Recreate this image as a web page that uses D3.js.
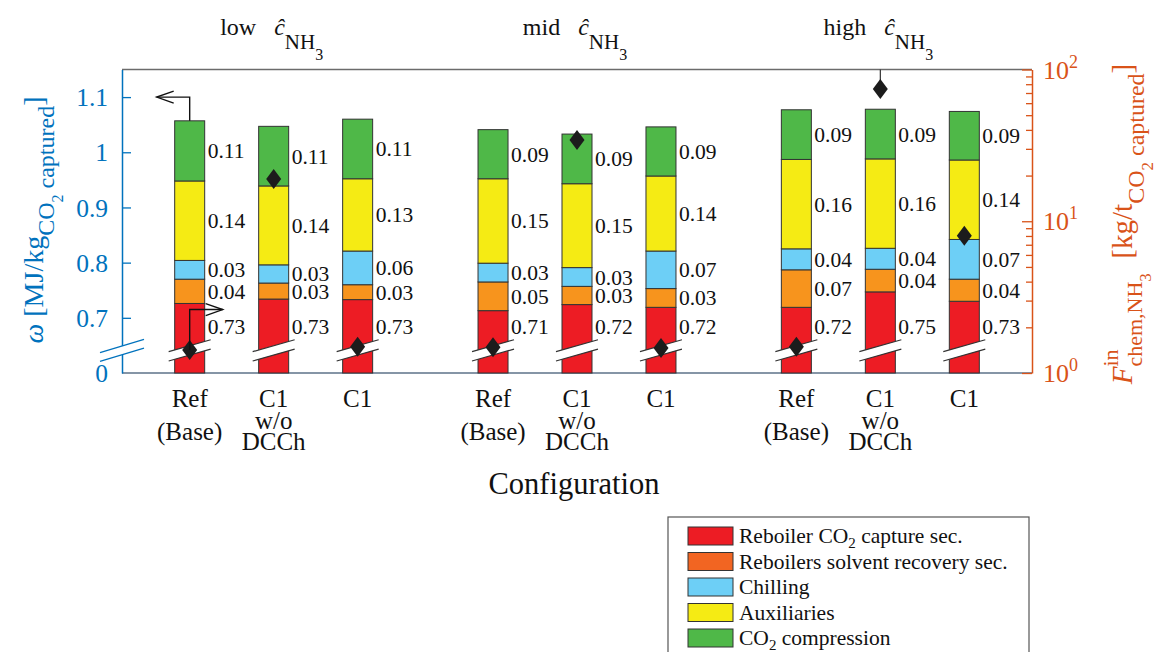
<!DOCTYPE html>
<meta charset="utf-8" />
<title>Specific energy by configuration</title>
<script src="https://d3js.org/d3.v7.min.js"></script>
<style>
  body { margin: 0; background: #fff; }
  svg { display: block; }
  text { white-space: pre; fill: #111; font-family: "Liberation Serif", "Times New Roman", serif; }
</style>
<div id="chart"></div>
<script>
  // ---- data ----
  var levels = ["low", "mid", "high"];
  var configs = ["Ref", "C1 w/o DCCh", "C1"];
  var configLines = [["Ref", "(Base)"], ["C1", "w/o", "DCCh"], ["C1"]];
  var components = ["reboiler", "solvent", "chilling", "aux", "compression"];

  // one value per bar: low Ref, low C1 w/o, low C1, mid ..., high ...
  var reboiler    = [0.726, 0.734, 0.733, 0.713, 0.724, 0.719, 0.719, 0.747, 0.730];
  var solvent     = [0.044, 0.029, 0.027, 0.052, 0.033, 0.034, 0.068, 0.041, 0.040];
  var chilling    = [0.034, 0.033, 0.061, 0.034, 0.034, 0.068, 0.038, 0.038, 0.072];
  var auxiliaries = [0.144, 0.143, 0.131, 0.153, 0.152, 0.136, 0.162, 0.162, 0.144];
  var compression = [0.109, 0.108, 0.108, 0.089, 0.090, 0.089, 0.090, 0.090, 0.088];
  // chemical NH3 make-up (right axis, log)
  var nh3Makeup   = [1.42, 19.0, 1.49, 1.48, 34.3, 1.46, 1.49, 74.4, 8.03];

  var leftTicks = [0.6, 0.7, 0.8, 0.9, 1.0, 1.1];   // 0.6 is shown as "0" (broken axis)
  var rightMajor = [1, 10, 100];

  var barColors = ["#ED1C24", "#F7941D", "#6DCFF6", "#F5EB14", "#4FB848"];
  var legendColors = ["#ED1C24", "#F26522", "#6DCFF6", "#F5EB14", "#4FB848"];
  var blue = "#0072BD", orange = "#D95319";

  var width = 1164, height = 652;
  var plot = { left: 122, right: 1032, top: 69.5, bottom: 373 };
  var breakAt = 0.641;      // where the axis break sits, in left axis units
  var redLabelAt = 0.685;   // red segment labels sit at a fixed level

  var svg = d3.select("#chart").append("svg")
    .attr("width", width).attr("height", height);

  // rich text helper: pieces laid out one after another, "stack" reuses previous start
  function rich(g, parts, anchor) {
    var inner = g.append("g");
    var cur = 0, prevStart = 0;
    parts.forEach(function (p) {
      var start = p.stack ? prevStart : cur;
      var t = inner.append("text")
        .attr("x", start).attr("y", p.dy || 0)
        .attr("font-size", p.size)
        .attr("font-style", p.italic ? "italic" : null)
        .style("fill", p.color || null)
        .text(p.t);
      var w = t.node().getComputedTextLength();
      cur = Math.max(cur, start + w);
      prevStart = start;
    });
    if (anchor === "middle") inner.attr("transform", "translate(" + (-cur / 2) + ",0)");
    return inner;
  }

  // scales
  var xGroup = d3.scaleBand().domain(levels).range([plot.left, plot.right]);
  var xConfig = d3.scalePoint().domain(configs).range([0, xGroup.bandwidth()]).padding(0.806);
  var y = d3.scaleLinear().domain([0.6, 1.15]).range([plot.bottom, plot.top]).clamp(true);
  var yR = d3.scaleLog().domain([1, 100]).range([plot.bottom, plot.top]);
  var barW = 30;

  var rows = [];
  levels.forEach(function (lv, i) {
    configs.forEach(function (c, j) {
      var k = i * 3 + j;
      rows.push({ level: lv, config: c, reboiler: reboiler[k], solvent: solvent[k],
        chilling: chilling[k], aux: auxiliaries[k], compression: compression[k], nh3: nh3Makeup[k] });
    });
  });
  var cx = function (d) { return xGroup(d.level) + xConfig(d.config); };

  var series = d3.stack().keys(components)(rows);

  // frame
  svg.append("line").attr("x1", plot.left).attr("x2", plot.right)
    .attr("y1", plot.top).attr("y2", plot.top).attr("stroke", "#6b6b6b").attr("stroke-width", 1.3);
  svg.append("line").attr("x1", plot.left).attr("x2", plot.right)
    .attr("y1", plot.bottom).attr("y2", plot.bottom).attr("stroke", "#5d7288").attr("stroke-width", 1.6);

  // bars
  var fmt = d3.format(".2f");
  series.forEach(function (s, si) {
    var g = svg.append("g");
    g.selectAll("rect").data(s).join("rect")
      .attr("x", function (d) { return cx(d.data) - barW / 2; })
      .attr("width", barW)
      .attr("y", function (d) { return y(d[1]); })
      .attr("height", function (d) { return y(d[0]) - y(d[1]); })
      .attr("fill", barColors[si])
      .attr("stroke", "#333").attr("stroke-width", 1);
    g.selectAll("text").data(s).join("text")
      .attr("x", function (d) { return cx(d.data) + barW / 2 + 3; })
      .attr("y", function (d) {
        return si === 0 ? y(redLabelAt) : (y(d[0]) + y(d[1])) / 2;
      })
      .attr("dy", "0.35em")
      .attr("font-size", 21.5)
      .text(function (d) { return fmt(d.data[s.key]); });
  });

  // axis breaks
  function drawBreak(x0, y0, half, slope, gap, color) {
    var p = [[x0 - half, y0 + gap / 2 + half * slope], [x0 + half, y0 + gap / 2 - half * slope],
             [x0 + half, y0 - gap / 2 - half * slope], [x0 - half, y0 - gap / 2 + half * slope]];
    svg.append("path").attr("d", "M" + p.join("L") + "Z").attr("fill", "#fff");
    svg.append("line").attr("x1", p[0][0]).attr("y1", p[0][1]).attr("x2", p[1][0]).attr("y2", p[1][1])
      .attr("stroke", color).attr("stroke-width", 1.2);
    svg.append("line").attr("x1", p[3][0]).attr("y1", p[3][1]).attr("x2", p[2][0]).attr("y2", p[2][1])
      .attr("stroke", color).attr("stroke-width", 1.2);
  }
  rows.forEach(function (d) { drawBreak(cx(d), y(breakAt), 21, 0.283, 9.3, "#333"); });

  // left axis
  var axL = svg.append("g").attr("transform", "translate(" + plot.left + ",0)")
    .call(d3.axisLeft(y).tickValues(leftTicks).tickSize(-9).tickSizeOuter(0).tickPadding(14)
      .tickFormat(function (d) { return d === 0.6 ? "0" : d3.format("~g")(d); }));
  axL.select(".domain").attr("stroke", blue).attr("stroke-width", 1.5);
  axL.selectAll(".tick line").attr("stroke", blue).attr("stroke-width", 1.3);
  axL.selectAll(".tick text").attr("font-size", 25.5)
    .style("fill", blue).attr("dy", "0.34em");
  axL.selectAll(".tick").filter(function (d) { return d === 0.6; }).select("line").remove();
  drawBreak(plot.left, y(breakAt), 22, 0.3, 8.7, blue);

  // right axis (log)
  var minor = [];
  [1, 10].forEach(function (b) { for (var m = 2; m <= 9; m++) minor.push(b * m); });
  var axR = svg.append("g").attr("transform", "translate(" + plot.right + ",0)");
  axR.call(d3.axisRight(yR).tickValues(rightMajor).tickSize(-10).tickSizeOuter(0).tickFormat(""));
  axR.append("g").call(d3.axisRight(yR).tickValues(minor).tickSize(-6).tickSizeOuter(0).tickFormat(""))
    .select(".domain").remove();
  axR.selectAll(".domain").attr("stroke", orange).attr("stroke-width", 1.5);
  axR.selectAll(".tick line").attr("stroke", orange).attr("stroke-width", 1.3);
  rightMajor.forEach(function (v) {
    var g = axR.append("g").attr("transform", "translate(11," + (yR(v) + 9) + ")");
    rich(g, [{ t: "10", size: 26, color: orange },
             { t: String(Math.round(Math.log10(v))), size: 18, dy: -11, color: orange }]);
  });

  // diamonds (right axis)
  var hi = rows[7];
  svg.append("line").attr("x1", cx(hi)).attr("x2", cx(hi))
    .attr("y1", plot.top).attr("y2", yR(hi.nh3)).attr("stroke", "#333").attr("stroke-width", 1.2);
  svg.append("g").selectAll("path").data(rows).join("path")
    .attr("transform", function (d) { return "translate(" + cx(d) + "," + yR(d.nh3) + ")"; })
    .attr("d", "M0,-10L7.5,0L0,10L-7.5,0Z")
    .attr("fill", "#1c1c1c");

  // axis pointer arrows on the first bar
  var r0 = rows[0];
  var top0 = r0.reboiler + r0.solvent + r0.chilling + r0.aux + r0.compression;
  function arrow(pts, dir) {
    svg.append("path").attr("d", "M" + pts.join("L")).attr("fill", "none")
      .attr("stroke", "#111").attr("stroke-width", 1.4);
    var tip = pts[pts.length - 1];
    svg.append("path")
      .attr("d", "M" + [tip[0] - dir * 17, tip[1] - 6] + "L" + tip + "L" + [tip[0] - dir * 17, tip[1] + 6])
      .attr("fill", "none").attr("stroke", "#111").attr("stroke-width", 1.4);
  }
  arrow([[cx(r0), y(top0)], [cx(r0), y(1.1)], [cx(r0) - 33, y(1.1)]], -1);
  arrow([[cx(r0), yR(r0.nh3)], [cx(r0), y(0.715)], [cx(r0) + 33, y(0.715)]], 1);

  // category labels
  var lineStep = { 2: 33, 3: 21.5 };
  rows.forEach(function (d) {
    var lines = configLines[configs.indexOf(d.config)];
    var t = svg.append("text").attr("text-anchor", "middle").attr("font-size", 25);
    lines.forEach(function (l, i) {
      t.append("tspan").attr("x", cx(d)).attr("y", 407 + i * (lineStep[lines.length] || 0)).text(l);
    });
  });

  // group titles
  levels.forEach(function (lv) {
    var g = svg.append("g").attr("transform", "translate(" + (xGroup(lv) + xGroup.bandwidth() / 2 - 2) + ",35)");
    rich(g, [{ t: lv + "   ", size: 24 }, { t: "\u0109", size: 24, italic: true },
             { t: "NH", size: 21, dy: 14 }, { t: "3", size: 16, dy: 25 }], "middle");
  });

  // x title
  svg.append("text").attr("x", (plot.left + plot.right) / 2 - 3).attr("y", 494)
    .attr("text-anchor", "middle").attr("font-size", 30.5).text("Configuration");

  // y titles
  var gl = svg.append("g").attr("transform", "translate(43,220) rotate(-90)");
  rich(gl, [{ t: "\u03C9", size: 28, italic: true, color: blue },
            { t: " [MJ/kg", size: 28, color: blue },
            { t: "CO", size: 24, dy: 11, color: blue },
            { t: "2", size: 16, dy: 20, color: blue },
            { t: " captured", size: 24, dy: 11, color: blue },
            { t: "]", size: 28, color: blue }], "middle");

  var gr = svg.append("g").attr("transform", "translate(1132,224) rotate(-90)");
  rich(gr, [{ t: "F", size: 29, italic: true, color: orange },
            { t: "in", size: 22, dy: -14, color: orange },
            { t: "chem,NH", size: 22, dy: 10, stack: true, color: orange },
            { t: "3", size: 17, dy: 19, color: orange },
            { t: "  [kg/t", size: 29, color: orange },
            { t: "CO", size: 24, dy: 12, color: orange },
            { t: "2", size: 17, dy: 21, color: orange },
            { t: " captured", size: 24, dy: 12, color: orange },
            { t: "]", size: 29, color: orange }], "middle");

  // legend
  var legendNames = [
    [{ t: "Reboiler CO", size: 21.5 }, { t: "2", size: 15, dy: 5 }, { t: " capture sec.", size: 21.5 }],
    [{ t: "Reboilers solvent recovery sec.", size: 21.5 }],
    [{ t: "Chilling", size: 21.5 }],
    [{ t: "Auxiliaries", size: 21.5 }],
    [{ t: "CO", size: 21.5 }, { t: "2", size: 15, dy: 5 }, { t: " compression", size: 21.5 }]
  ];
  var lg = svg.append("g").attr("transform", "translate(668,517)");
  lg.append("rect").attr("width", 361).attr("height", 160)
    .attr("fill", "#fff").attr("stroke", "#555").attr("stroke-width", 1.2);
  legendNames.forEach(function (parts, i) {
    var row = lg.append("g").attr("transform", "translate(0," + (19 + i * 25.5) + ")");
    row.append("rect").attr("x", 20).attr("y", -9).attr("width", 45).attr("height", 18)
      .attr("fill", legendColors[i]).attr("stroke", "#333").attr("stroke-width", 1);
    rich(row.append("g").attr("transform", "translate(71,7)"), parts);
  });
</script>
